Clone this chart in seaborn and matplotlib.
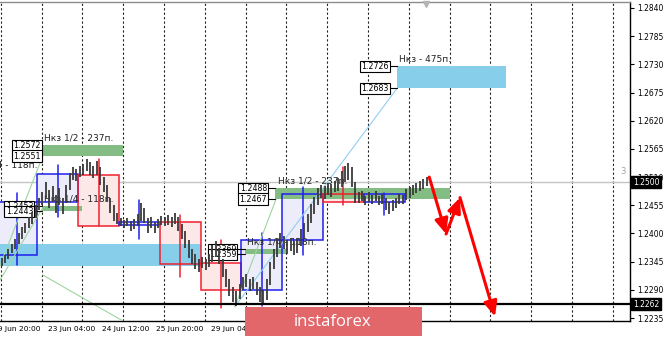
import numpy as np
import pandas as pd
import matplotlib
matplotlib.use("Agg")
import matplotlib.pyplot as plt
from matplotlib.patches import Rectangle
from matplotlib.transforms import blended_transform_factory
import seaborn as sns

# ---------------- data ----------------
# hourly price bars (pair of hours per drawn bar)
bar_lows = [1.2336, 1.2342, 1.2350, 1.2362, 1.2370, 1.2380, 1.2390, 1.2400, 1.2410, 1.2418,
            1.2430, 1.2445, 1.2455, 1.2470, 1.2450, 1.2462, 1.2440, 1.2455, 1.2438, 1.2460,
            1.2485, 1.2505, 1.2502, 1.2510, 1.2515, 1.2522, 1.2515, 1.2508, 1.2515, 1.2495,
            1.2480, 1.2462, 1.2440, 1.2425, 1.2418, 1.2415, 1.2410, 1.2414, 1.2405, 1.2408,
            1.2415, 1.2425, 1.2420, 1.2400, 1.2410, 1.2400, 1.2410, 1.2416, 1.2414, 1.2416,
            1.2412, 1.2418, 1.2405, 1.2390, 1.2372, 1.2352, 1.2340, 1.2330, 1.2325, 1.2332,
            1.2328, 1.2335, 1.2345, 1.2355, 1.2340, 1.2315, 1.2295, 1.2278, 1.2266, 1.2258,
            1.2272, 1.2290, 1.2296, 1.2288, 1.2292, 1.2280, 1.2266, 1.2260, 1.2270, 1.2300,
            1.2330, 1.2355, 1.2372, 1.2370, 1.2360, 1.2366, 1.2358, 1.2362, 1.2375, 1.2390,
            1.2402, 1.2420, 1.2438, 1.2455, 1.2470, 1.2468, 1.2475, 1.2472, 1.2480, 1.2482,
            1.2490, 1.2500, 1.2505, 1.2490, 1.2460, 1.2460, 1.2464, 1.2456, 1.2462, 1.2458,
            1.2463, 1.2455, 1.2458, 1.2445, 1.2438, 1.2444, 1.2450, 1.2458, 1.2458, 1.2465,
            1.2470, 1.2475, 1.2479, 1.2483, 1.2487, 1.2492]
bar_highs = [1.2352, 1.2358, 1.2370, 1.2380, 1.2390, 1.2400, 1.2412, 1.2420, 1.2432, 1.2442,
             1.2456, 1.2470, 1.2480, 1.2500, 1.2485, 1.2492, 1.2475, 1.2488, 1.2470, 1.2495,
             1.2518, 1.2530, 1.2525, 1.2532, 1.2536, 1.2545, 1.2540, 1.2532, 1.2542, 1.2530,
             1.2510, 1.2495, 1.2470, 1.2455, 1.2440, 1.2430, 1.2426, 1.2430, 1.2424, 1.2428,
             1.2438, 1.2460, 1.2450, 1.2430, 1.2432, 1.2422, 1.2428, 1.2434, 1.2432, 1.2436,
             1.2432, 1.2440, 1.2432, 1.2418, 1.2405, 1.2388, 1.2370, 1.2360, 1.2350, 1.2355,
             1.2350, 1.2360, 1.2378, 1.2385, 1.2372, 1.2350, 1.2330, 1.2312, 1.2295, 1.2288,
             1.2302, 1.2315, 1.2320, 1.2312, 1.2316, 1.2306, 1.2295, 1.2290, 1.2312, 1.2345,
             1.2370, 1.2392, 1.2400, 1.2396, 1.2388, 1.2392, 1.2385, 1.2392, 1.2408, 1.2420,
             1.2438, 1.2458, 1.2472, 1.2488, 1.2495, 1.2492, 1.2498, 1.2496, 1.2502, 1.2508,
             1.2522, 1.2532, 1.2538, 1.2530, 1.2500, 1.2480, 1.2482, 1.2474, 1.2480, 1.2476,
             1.2482, 1.2474, 1.2478, 1.2470, 1.2462, 1.2466, 1.2470, 1.2478, 1.2476, 1.2486,
             1.2490, 1.2494, 1.2498, 1.2502, 1.2506, 1.2510]

# daily candles overlay
day_open  = [1.2358, 1.2461, 1.2515, 1.2416, 1.2422, 1.2342, 1.2290, 1.2387, 1.2477, 1.2462]
day_close = [1.2461, 1.2516, 1.2415, 1.2423, 1.2340, 1.2290, 1.2387, 1.2477, 1.2462, 1.2477]
day_high  = [1.2479, 1.2534, 1.2545, 1.2465, 1.2436, 1.2387, 1.2401, 1.2491, 1.2530, 1.2479]
day_low   = [1.2338, 1.2432, 1.2415, 1.2389, 1.2315, 1.2255, 1.2259, 1.2358, 1.2456, 1.2436]

# green zones
green_start  = [24.5, 24.5, 162.0, 144.0]
green_end    = [72.5, 48.5, 264.5, 168.5]
green_top    = [1.2572, 1.2453, 1.2488, 1.2369]
green_bottom = [1.2551, 1.2443, 1.2467, 1.2359]
green_text   = ["Нкз 1/2 - 237п.", "Нкз 1/4 - 118п.", "Нкз 1/2 - 237п.", "Нкз 1/4 - 118п."]

# blue zones
blue_start  = [-10.0, 233.5]
blue_end    = [118.0, 297.5]
blue_top    = [1.2379, 1.2726]
blue_bottom = [1.2337, 1.2683]
blue_text   = ["", "Нкз - 475п."]

# thin trend lines
diag_x0 = [0.0, 0.0, 25.1, 138.2, 138.2]
diag_y0 = [1.2337, 1.2309, 1.2319, 1.2257, 1.2257]
diag_x1 = [25.1, 25.1, 73.5, 162.4, 233.5]
diag_y1 = [1.2551, 1.2450, 1.2227, 1.2467, 1.2683]
diag_kind = ["green", "green", "green", "green", "blue"]

# forecast arrows
arrow_hours  = [252.5, 262.4, 270.6, 291.2]
arrow_prices = [1.2510, 1.2399, 1.2470, 1.2238]

# axes texts
price_ticks = [1.2235, 1.2290, 1.2345, 1.2400, 1.2455, 1.2510, 1.2565, 1.2620, 1.2675, 1.2730, 1.2785, 1.2840]
price_tick_labels = ["1.2235", "1.2290", "1.2345", "1.2400", "1.2455", "1.2510", "1.2565",
                     "1.2620", "1.2675", "1.2730", "1.2785", "1.2840"]
marked_levels = [1.2500, 1.2262]
time_labels = ["19 Jun 20:00", "23 Jun 04:00", "24 Jun 12:00", "25 Jun 20:00", "29 Jun 04:00"]
time_label_hours = [-4, 28, 60, 92, 124]
day_hours = 24

# ---------------- figure ----------------
sns.set_style("white")
plt.rcParams['font.family'] = ['DejaVu Sans']

W, H = 665, 338
fig = plt.figure(figsize=(W / 100, H / 100), dpi=100)
ax = fig.add_axes([0, 17 / H, 630 / W, 319 / H])
ax.set_xlim(0, 370.6)
ax.set_ylim(1.22292, 1.28517)

# grid day separators
for n in range(16):
    ax.axvline(n * day_hours + 0.5, color="#222222", lw=0.8, ls=(0, (2, 2)), zorder=0.5)

ax.axhline(marked_levels[0], color="#c4c4c4", lw=1.0, zorder=0.6)

# daily candles
for i in range(len(day_open)):
    start = i * day_hours - 2
    bull = day_close[i] >= day_open[i]
    edge = "#1f1ff0" if bull else "#f0202e"
    fill = "#ececfb" if bull else "#fde8e8"
    lo, hi = min(day_open[i], day_close[i]), max(day_open[i], day_close[i])
    ax.add_patch(Rectangle((start, lo), day_hours, hi - lo, fc=fill, ec="none", zorder=1))
    ax.add_patch(Rectangle((start, lo), day_hours, hi - lo, fill=False, ec=edge, lw=1.1, zorder=2.6))
    ax.plot([start + day_hours / 2] * 2, [day_low[i], day_high[i]], color=edge, lw=1.1, zorder=2.6)


def price_label(x_right, price):
    ax.text(x_right, price, f"{price:.4f}", fontsize=5.7, ha="right", va="center", color="black",
            bbox=dict(boxstyle="square,pad=0.15", fc="white", ec="black", lw=0.8), zorder=3.5)


# blue zones
for i in range(len(blue_start)):
    ax.add_patch(Rectangle((blue_start[i], blue_bottom[i]), blue_end[i] - blue_start[i],
                           blue_top[i] - blue_bottom[i], fc="#87ceeb", ec="none", zorder=2.0))
    if blue_text[i]:
        ax.annotate(blue_text[i], (blue_start[i] + 1.5, blue_top[i]), xytext=(0, 2),
                    textcoords="offset points", fontsize=6.5, color="#222222", va="bottom", zorder=3)
        xr = blue_start[i] - 5
        for p in (blue_top[i], blue_bottom[i]):
            ax.plot([xr, blue_start[i]], [p, p], color="black", lw=0.8, zorder=3.4)
            price_label(xr, p)

# green zones
for i in range(len(green_start)):
    ax.add_patch(Rectangle((green_start[i], green_bottom[i]), green_end[i] - green_start[i],
                           green_top[i] - green_bottom[i], fc="#84bd84", ec="none", zorder=2.2))
    ax.annotate(green_text[i], (green_start[i] + 1.5, green_top[i]), xytext=(0, 2),
                textcoords="offset points", fontsize=6.5, color="#222222", va="bottom", zorder=3)
    gap = 0.6 if i == 0 else 5
    xr = green_start[i] - gap
    for p in (green_top[i], green_bottom[i]):
        ax.plot([xr, green_start[i]], [p, p], color="black", lw=0.8, zorder=3.4)
        price_label(xr, p)

# partially visible caption at the left edge
ax.text(21.8, 1.2534, "Нкз 1/4 - 118п.", fontsize=6.5, color="#222222", ha="right", va="center",
        zorder=3, clip_on=False)

# trend lines via seaborn
rows = []
for i in range(len(diag_x0)):
    rows.append({"hour": diag_x0[i], "price": diag_y0[i], "line": i, "kind": diag_kind[i]})
    rows.append({"hour": diag_x1[i], "price": diag_y1[i], "line": i, "kind": diag_kind[i]})
df_lines = pd.DataFrame(rows)
for i, g in df_lines.groupby("line"):
    col = "#9ed59e" if g["kind"].iloc[0] == "green" else "#8fd0ee"
    sns.lineplot(data=g, x="hour", y="price", color=col, lw=0.8, sort=False,
                 estimator=None, ax=ax, zorder=2.8)

# price bars
bar_hours = [2 * k + 1 for k in range(len(bar_lows))]
ax.vlines(bar_hours, bar_lows, bar_highs, color="#3a3a3a", lw=1.3, zorder=4)

ax.axhline(marked_levels[1], color="black", lw=1.6, zorder=4.5)

# forecast arrows
for i in range(len(arrow_hours) - 1):
    ax.annotate("", xy=(arrow_hours[i + 1], arrow_prices[i + 1]),
                xytext=(arrow_hours[i], arrow_prices[i]),
                arrowprops=dict(arrowstyle="-|>,head_length=0.9,head_width=0.4", color="#ff0000",
                                lw=2.2, shrinkA=0, shrinkB=0, mutation_scale=10),
                zorder=6, annotation_clip=False)

# small marks
ax.text(366.3, 1.2520, "3", fontsize=6, color="#a0a0a0", ha="center", va="center", zorder=3)
ax.plot([250.4], [0.993], marker="v", ms=4, color="#b4b4b4", transform=ax.get_xaxis_transform(),
        clip_on=False, zorder=5)

# axes styling
ax.set_xlabel("")
ax.set_ylabel("")
ax.set_xticks([])
ax.yaxis.tick_right()
ax.set_yticks(price_ticks)
ax.set_yticklabels(price_tick_labels, fontsize=5.5)
ax.tick_params(axis="y", length=3, width=0.8, pad=2, colors="black", right=True, left=False)
ax.spines["left"].set_visible(False)
ax.spines["top"].set_color("#8c8c8c")
ax.spines["right"].set_color("black")
ax.spines["bottom"].set_color("black")
for s in ("top", "right", "bottom"):
    ax.spines[s].set_linewidth(1.0)

trans = blended_transform_factory(ax.transAxes, ax.transData)
for lvl in marked_levels:
    ax.text(1.0 + 3 / 630, lvl, f"{lvl:.4f}", transform=trans, fontsize=5.5, color="white",
            ha="left", va="center", clip_on=False, zorder=10,
            bbox=dict(boxstyle="square,pad=0.2", fc="black", ec="black"))

xtrans = blended_transform_factory(ax.transData, ax.transAxes)
for h, lab in zip(time_label_hours, time_labels):
    ax.text(h, -0.026, lab, transform=xtrans, fontsize=5.4, color="black", ha="left", va="center",
            clip_on=False)

# logo
fig.patches.append(Rectangle((245 / W, 2 / H), 176.7 / W, 29 / H, transform=fig.transFigure,
                             fc="#e2676b", ec="none", zorder=20))
fig.text(333 / W, 16 / H, "instaforex", color="white", fontsize=12, ha="center", va="center",
         family=["Open Sans", "DejaVu Sans"], zorder=21)

fig.savefig("out.png", dpi=100)
